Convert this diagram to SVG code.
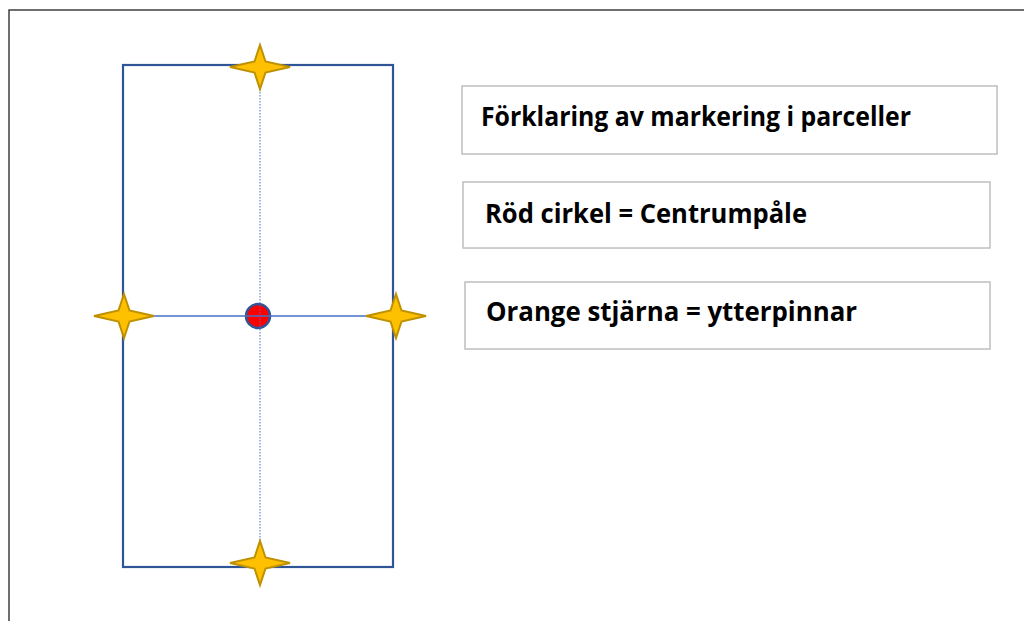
<svg xmlns="http://www.w3.org/2000/svg" width="1024" height="621" viewBox="0 0 1024 621">
<style>
.box{fill:#fff;stroke:#BFBFBF;stroke-width:1.5}
.lbl{font-family:"Open Sans","Liberation Sans",sans-serif;font-weight:bold;font-size:26px;fill:#000}
.star{fill:#FFC000;stroke:#BF9000;stroke-width:2}
</style>
<defs>
<path id="star" d="M0,-22 L5.5,-5.5 L30,0 L5.5,5.5 L0,22 L-5.5,5.5 L-30,0 L-5.5,-5.5 Z"/>
</defs>
<rect x="0" y="0" width="1024" height="621" fill="#fff"/>
<path d="M9,621 L9,10 L1024,10" fill="none" stroke="#404040" stroke-width="1.5"/>
<g id="plot">
<rect x="123" y="65" width="270" height="502" fill="none" stroke="#2F5597" stroke-width="2.2"/>
</g>
<g id="connectors">
<line x1="260" y1="65" x2="260" y2="567" stroke="#4472C4" stroke-width="1" stroke-dasharray="1.5,1.5"/>
<line x1="105" y1="316" x2="395" y2="316" stroke="#4472C4" stroke-width="1.5"/>
</g>
<g id="center"><circle cx="258" cy="316" r="12" fill="#FF0000" stroke="#2F5597" stroke-width="2.5"/>
<line x1="260" y1="303" x2="260" y2="329" stroke="#4472C4" stroke-width="1" stroke-dasharray="1.5,1.5"/>
<line x1="245" y1="316" x2="271" y2="316" stroke="#4472C4" stroke-width="1.5"/></g>
<g id="star-top"><use href="#star" class="star" x="260" y="67"/></g>
<g id="star-left"><use href="#star" class="star" x="124" y="316"/></g>
<g id="star-right"><use href="#star" class="star" x="396" y="316"/></g>
<g id="star-bottom"><use href="#star" class="star" x="260" y="563"/></g>
<g id="legend-title"><rect class="box" x="462" y="86" width="535" height="68"/>
<text class="lbl" x="481" y="126" textLength="430" lengthAdjust="spacingAndGlyphs">Förklaring av markering i parceller</text></g>
<g id="legend-red"><rect class="box" x="463" y="182" width="527" height="66"/>
<text class="lbl" x="485" y="223" textLength="322" lengthAdjust="spacingAndGlyphs">Röd cirkel = Centrumpåle</text></g>
<g id="legend-orange"><rect class="box" x="465" y="282" width="525" height="67"/>
<text class="lbl" x="486" y="321" textLength="371" lengthAdjust="spacingAndGlyphs">Orange stjärna = ytterpinnar</text></g>
</svg>
